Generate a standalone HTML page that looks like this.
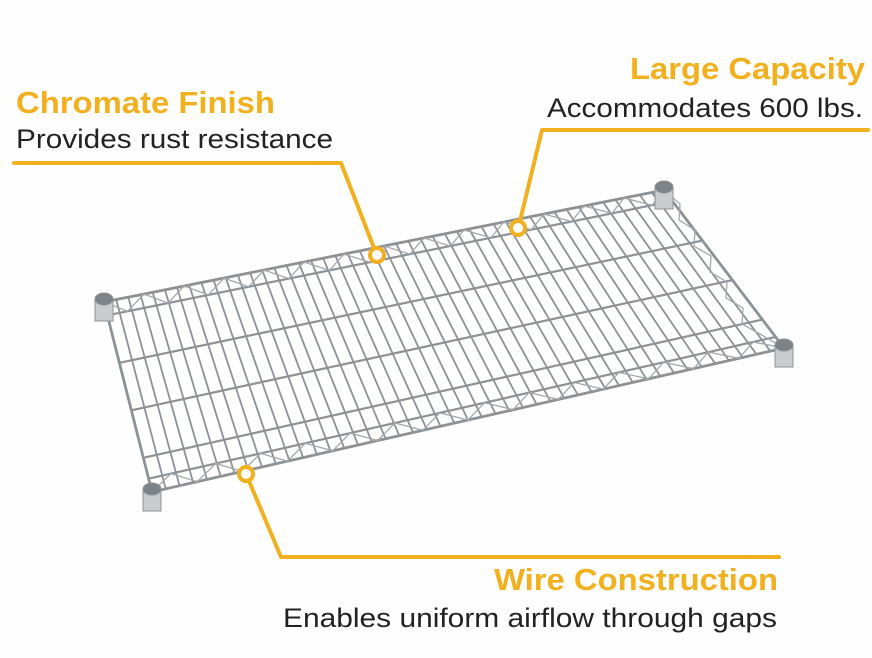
<!DOCTYPE html>
<html><head><meta charset="utf-8"><style>
html,body{margin:0;padding:0;background:#fff;}
svg{display:block;}
</style></head><body>
<svg width="872" height="658" viewBox="0 0 872 658" xmlns="http://www.w3.org/2000/svg">
<rect width="872" height="658" fill="#fefefe"/>
<g stroke="#8d9296" fill="none" stroke-linecap="round" stroke-width="1.8">
<path d="M116.2,299.6L165.7,488.9M128.3,297.1L179.5,485.7M140.5,294.7L193.2,482.6M152.7,292.3L207,479.5M164.9,289.8L220.7,476.4M177,287.4L234.4,473.2M189.2,285L248.2,470.1M201.4,282.5L261.9,467M213.6,280.1L275.7,463.8M225.7,277.7L289.4,460.7M237.9,275.2L303.1,457.6M250.1,272.8L316.9,454.4M262.3,270.3L330.6,451.3M274.4,267.9L344.3,448.2M286.6,265.5L358.1,445.1M298.8,263L371.8,441.9M311,260.6L385.6,438.8M323.1,258.2L399.3,435.7M335.3,255.7L413,432.5M347.5,253.3L426.8,429.4M359.7,250.9L440.5,426.3M371.8,248.4L454.3,423.1M384,246L468,420M396.2,243.6L481.7,416.9M408.4,241.1L495.5,413.7M420.5,238.7L509.2,410.6M432.7,236.3L522.9,407.5M444.9,233.8L536.7,404.4M457,231.4L550.4,401.2M469.2,229L564.2,398.1M481.4,226.5L577.9,395M493.6,224.1L591.6,391.8M505.7,221.6L605.4,388.7M517.9,219.2L619.1,385.6M530.1,216.8L632.9,382.5M542.3,214.4L646.6,379.3M554.4,211.9L660.3,376.2M566.6,209.5L674.1,373.1M578.8,207.1L687.8,369.9M591,204.6L701.6,366.8M603.1,202.2L715.3,363.7M615.3,199.7L729,360.5M627.5,197.3L742.8,357.4M639.7,194.9L756.5,354.3M651.8,192.4L770.3,351.1"/>
<path stroke-width="2.2" d="M107.4,315.3L672.4,201.1M119.4,362.8L702.4,240.6M131.4,410.3L732.4,280.1M143.4,457.8L762.4,319.6M148.6,478.7L775.6,336.9"/>
<path stroke-width="2.8" d="M104,302L664,190L784,348L152,492Z"/>
<polyline stroke-width="1.3" stroke="#a4a9ad" points="152,492 171,473.6 197.1,481.7 215.8,463.5 242.3,471.4 260.6,453.4 287.4,461.1 305.4,443.3 332.6,450.9 350.1,433.1 377.7,440.6 394.9,423 422.9,430.3 439.7,412.9 468,420 484.5,402.7 513.1,409.7 529.2,392.6 558.3,399.4 574.1,382.5 603.4,389.1 618.9,372.4 648.6,378.9 663.6,362.2 693.7,368.6 708.4,352.1 738.9,358.3 753.2,342 784,348"/>
<polyline stroke-width="1.3" stroke="#a4a9ad" points="104,302 127.6,311.2 144,294 168,303.1 184,286 208.3,294.9 224,278 248.7,286.8 264,270 289,278.6 304,262 329.4,270.4 344,254 369.7,262.3 384,246 409.8,254.1 424,238 450.4,246 464,230 490.8,237.8 504,222 531.2,229.7 544,214 571.5,221.5 584,206 611.9,213.3 624,198 652.2,205.2 664,190"/>
<polyline stroke-width="1.3" stroke="#a4a9ad" points="664,190 680,204 679,220 695,230 694,246 711,256 710,272 727,282 726,298 743,308 742,324 760,334 784,348"/>
</g>
<g stroke="#8d9296" stroke-width="1">
<rect x="95" y="299" width="18" height="22" fill="#c9cdcf"/><ellipse cx="104" cy="299" rx="9" ry="6" fill="#7d8387"/>
<rect x="655" y="187" width="18" height="22" fill="#c9cdcf"/><ellipse cx="664" cy="187" rx="9" ry="6" fill="#7d8387"/>
<rect x="775" y="345" width="18" height="22" fill="#c9cdcf"/><ellipse cx="784" cy="345" rx="9" ry="6" fill="#7d8387"/>
<rect x="143" y="489" width="18" height="22" fill="#c9cdcf"/><ellipse cx="152" cy="489" rx="9" ry="6" fill="#7d8387"/>
</g>
<g stroke="#F2B01E" stroke-width="4" fill="none" stroke-linecap="round" stroke-linejoin="round">
<polyline points="14,163 341,163 374,248"/>
<circle cx="377" cy="255" r="7" fill="#fff"/>
<polyline points="868,130 542,130 520,221"/>
<circle cx="518" cy="228" r="7" fill="#fff"/>
<polyline points="249,481 281,557 779,557"/>
<circle cx="246" cy="474" r="7" fill="#fff"/>
</g>
<g font-family="Liberation Sans, Arial, sans-serif">
<text x="16" y="113" font-size="31" font-weight="bold" fill="#F2B01E" textLength="259" lengthAdjust="spacingAndGlyphs">Chromate Finish</text>
<text x="16" y="148" font-size="27" fill="#222" textLength="317" lengthAdjust="spacingAndGlyphs">Provides rust resistance</text>
<text x="630" y="79" font-size="31" font-weight="bold" fill="#F2B01E" textLength="235" lengthAdjust="spacingAndGlyphs">Large Capacity</text>
<text x="547" y="117" font-size="27" fill="#222" textLength="316" lengthAdjust="spacingAndGlyphs">Accommodates 600 lbs.</text>
<text x="494" y="590" font-size="31" font-weight="bold" fill="#F2B01E" textLength="284" lengthAdjust="spacingAndGlyphs">Wire Construction</text>
<text x="283" y="627" font-size="27" fill="#222" textLength="494" lengthAdjust="spacingAndGlyphs">Enables uniform airflow through gaps</text>
</g>
</svg>
</body></html>
